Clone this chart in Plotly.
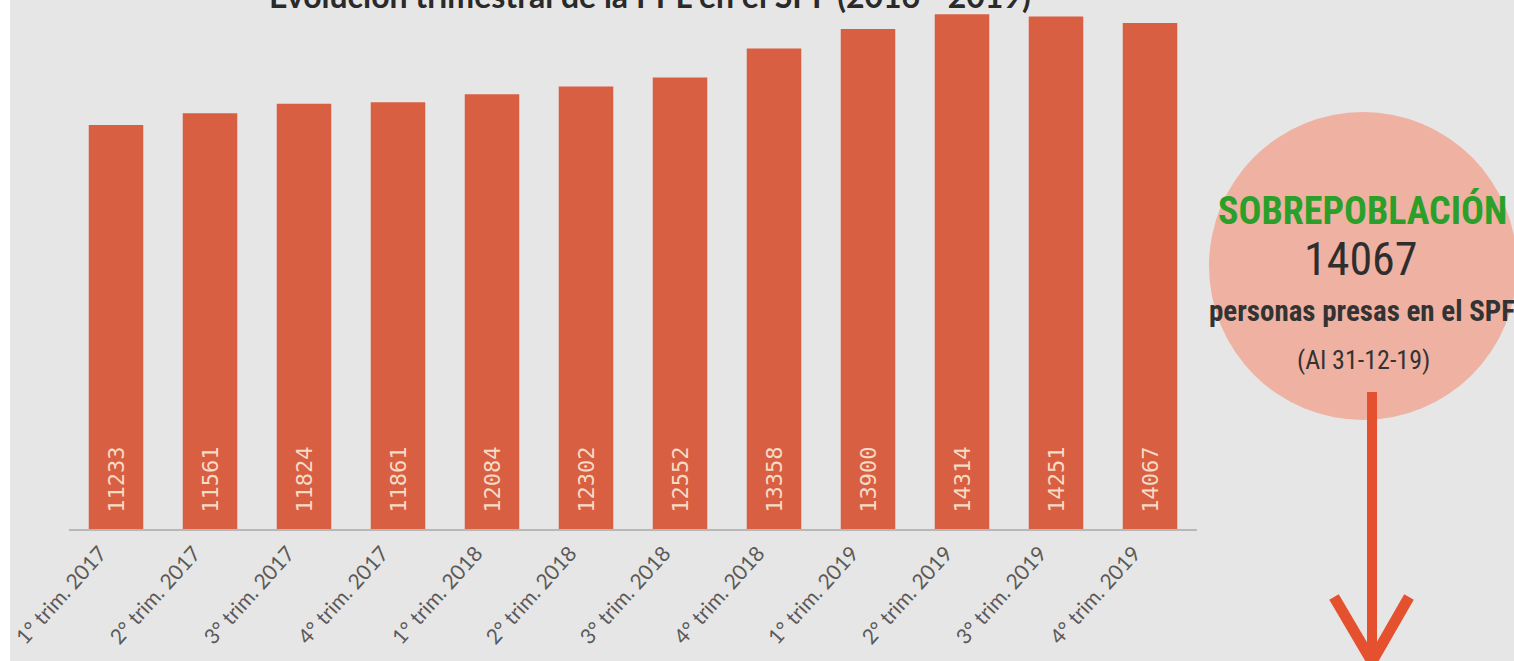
import plotly.graph_objects as go

categories = ["1° trim. 2017", "2° trim. 2017", "3° trim. 2017", "4° trim. 2017",
              "1° trim. 2018", "2° trim. 2018", "3° trim. 2018", "4° trim. 2018",
              "1° trim. 2019", "2° trim. 2019", "3° trim. 2019", "4° trim. 2019"]
values = [11233, 11561, 11824, 11861, 12084, 12302, 12552, 13358, 13900, 14314, 14251, 14067]

W, H = 1514, 661
L, T, PW, PH = 69, 0, 1128, 529
BG = "#e6e6e6"
BAR = "#d95f43"
NARROW = "Roboto Condensed, Liberation Sans Narrow, Roboto, sans-serif"


def px(x):
    return (x - L) / PW


def py(y):
    return (T + PH - y) / PH


fig = go.Figure()
fig.add_trace(go.Bar(
    x=categories, y=values,
    marker=dict(color=BAR, line=dict(width=0)),
    width=0.58,
    text=["\u2009" + str(v) for v in values],
    textposition="inside",
    insidetextanchor="start",
    textangle=-90,
    textfont=dict(color="#f6dbc5", size=22, family="DejaVu Sans Mono, monospace"),
    hoverinfo="skip",
))

ARROW = "#e5512f"
shapes = [
    dict(type="rect", xref="paper", yref="paper",
         x0=px(-5), x1=px(10), y0=py(700), y1=py(-10),
         fillcolor="#ffffff", line=dict(width=0), layer="above"),
    dict(type="circle", xref="paper", yref="paper",
         x0=px(1209), x1=px(1517), y0=py(420), y1=py(112),
         fillcolor="#efb1a1", line=dict(width=0), layer="below"),
    dict(type="line", xref="paper", yref="paper",
         x0=px(1372), x1=px(1372), y0=py(392), y1=py(664),
         line=dict(color=ARROW, width=10)),
    dict(type="line", xref="paper", yref="paper",
         x0=px(1334), x1=px(1374), y0=py(597), y1=py(665),
         line=dict(color=ARROW, width=11)),
    dict(type="line", xref="paper", yref="paper",
         x0=px(1409), x1=px(1370), y0=py(597), y1=py(665),
         line=dict(color=ARROW, width=11)),
]

annotations = [
    dict(text="<b>Evolución trimestral de la PPL en el SPF (2016 - 2019)</b>",
         xref="paper", yref="paper", x=px(650), y=py(-4),
         xanchor="center", yanchor="middle", showarrow=False,
         font=dict(size=32, color="#2a2a2a", family="Lato, sans-serif")),
    dict(text="<b>SOBREPOBLACIÓN</b>", xref="paper", yref="paper",
         x=px(1362), y=py(210), xanchor="center", yanchor="middle", showarrow=False,
         font=dict(size=38, color="#2aa02a", family=NARROW)),
    dict(text="14067", xref="paper", yref="paper",
         x=px(1361), y=py(259), xanchor="center", yanchor="middle", showarrow=False,
         font=dict(size=46, color="#2e2e2e", family=NARROW)),
    dict(text="<b>personas presas en el SPF</b>", xref="paper", yref="paper",
         x=px(1362), y=py(311), xanchor="center", yanchor="middle", showarrow=False,
         font=dict(size=29, color="#333333", family=NARROW)),
    dict(text="(Al 31-12-19)", xref="paper", yref="paper",
         x=px(1364), y=py(360), xanchor="center", yanchor="middle", showarrow=False,
         font=dict(size=26, color="#333333", family=NARROW)),
]

fig.update_layout(
    width=W, height=H,
    margin=dict(l=L, r=W - L - PW, t=T, b=H - T - PH, pad=0),
    paper_bgcolor=BG, plot_bgcolor=BG,
    showlegend=False,
    shapes=shapes,
    annotations=annotations,
)
fig.update_xaxes(
    range=[-0.5, 11.5],
    tickangle=-48,
    tickfont=dict(size=21, color="#5a5a5a", family="Lato, sans-serif"),
    ticklabelshift=-16,
    ticklabelstandoff=2,
    showline=True, linecolor="#b8b8b8", linewidth=1.5,
    showgrid=False, ticks="", ticklen=0,
)
fig.update_yaxes(
    range=[0, 14707],
    visible=False, showgrid=False, zeroline=False,
)

fig.write_html(
    "out.html",
    config={"displayModeBar": False},
    post_script="document.body.style.margin='0';document.body.style.overflow='hidden';",
)
